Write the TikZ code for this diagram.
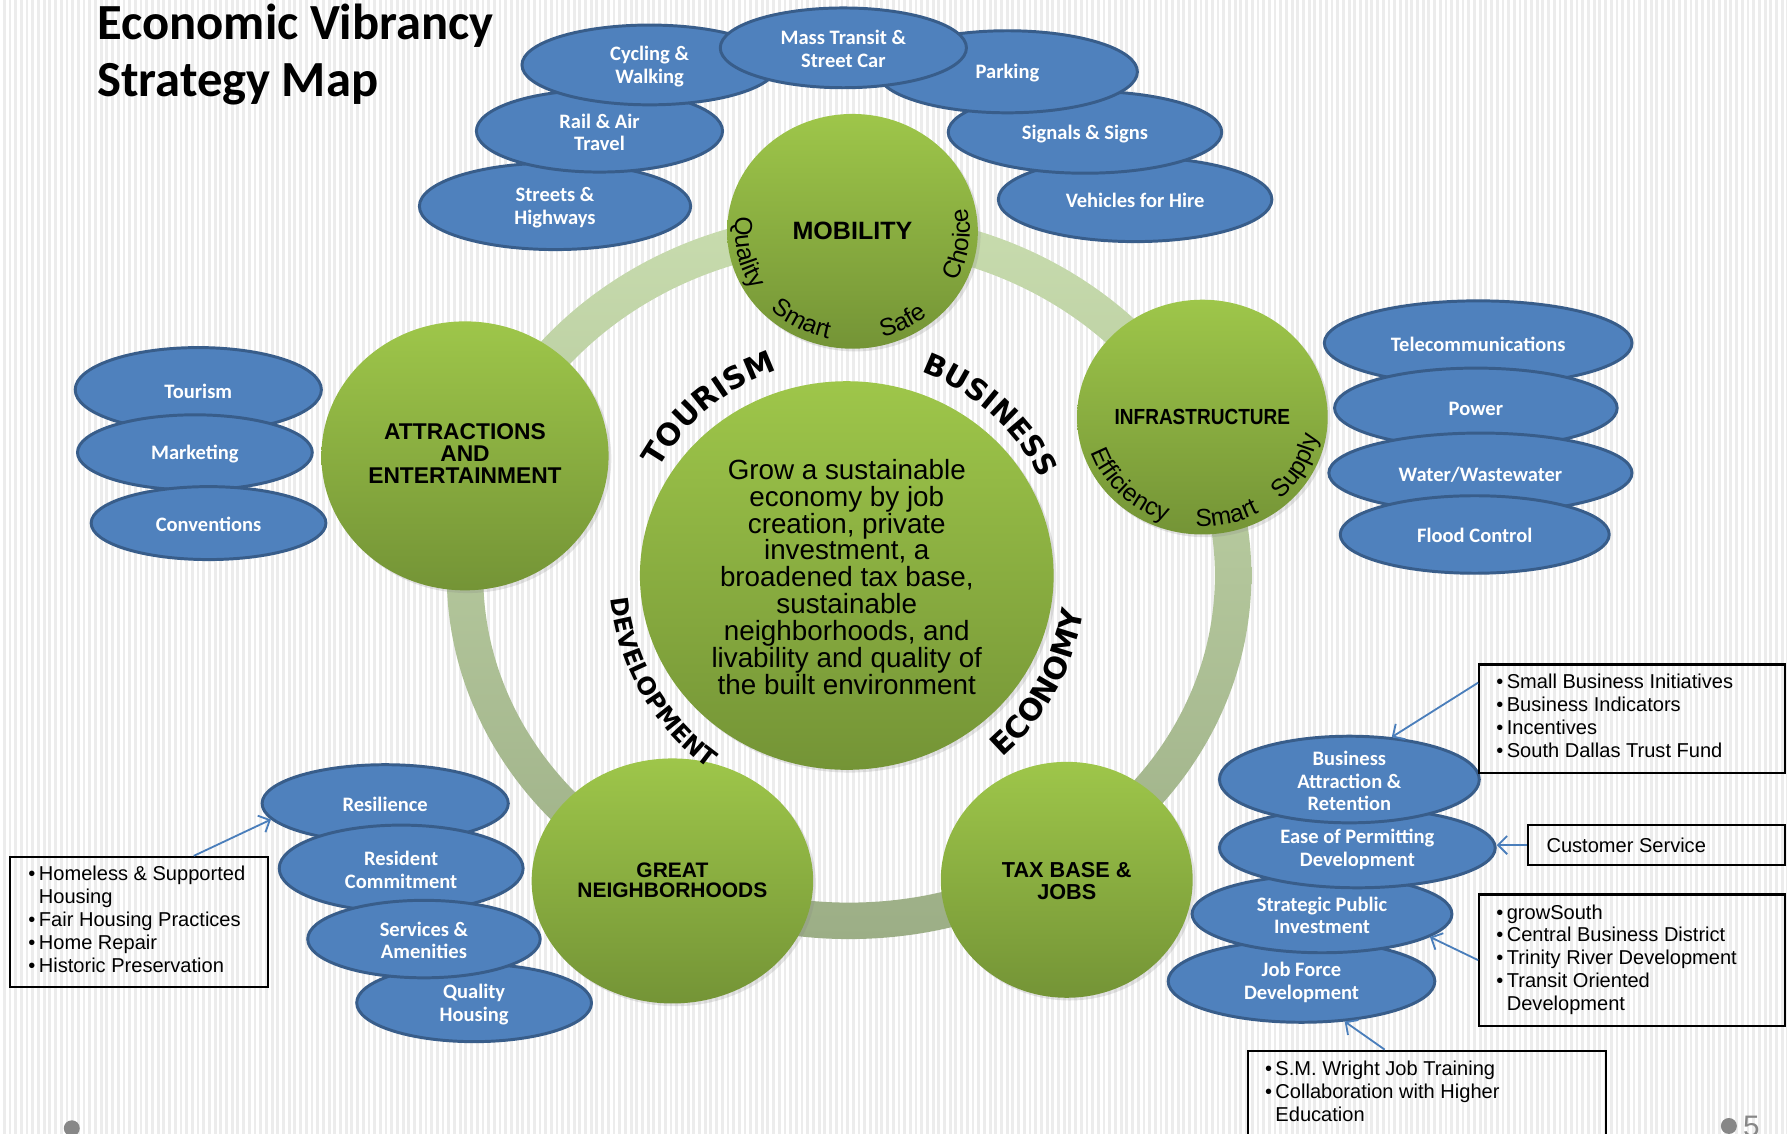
\documentclass[tikz,border=0pt]{standalone}
\usepackage{fontspec}
\usepackage{graphicx}
\setmainfont{Liberation Sans}
\newfontfamily\calib{Carlito}
\newfontfamily\heavy{DejaVu Sans}
\usetikzlibrary{shapes.geometric,decorations.text,arrows.meta,calc,shadows,fadings}
\definecolor{bfill}{RGB}{79,129,189}
\definecolor{bline}{RGB}{56,93,138}
\definecolor{gtop}{RGB}{158,198,74}
\definecolor{gbot}{RGB}{116,148,54}
\definecolor{rtop}{RGB}{200,220,174}
\definecolor{rbot}{RGB}{156,174,134}
\definecolor{arrowblue}{RGB}{74,126,187}
\definecolor{stripe}{RGB}{236,236,236}
\definecolor{dotgray}{RGB}{135,135,135}
\newcommand\zc[2][0pt]{\smash{\makebox[0pt]{\raisebox{\dimexpr-\fontdimen22\textfont2-0.6pt+#1\relax}{\parbox[c]{300pt}{\centering #2}}}}}
\newcommand\bl[1]{\begin{tabular}[c]{@{}l@{\hspace{1.5pt}}l@{}}#1\end{tabular}}
\newcommand\bx[2]{\makebox[#1][l]{#2}}
\newcommand\smallcurve{\fontsize{10.8}{10.8}\selectfont}
\newcommand\tourf{\heavy\bfseries\fontsize{13.3}{13.3}\selectfont}
\newcommand\busf{\heavy\bfseries\fontsize{12.8}{12.8}\selectfont}
\newcommand\devf{\heavy\bfseries\fontsize{10.6}{10.6}\selectfont}
\newcommand\ecof{\heavy\bfseries\fontsize{13.2}{13.2}\selectfont}
\begin{document}
\begin{tikzpicture}[x=0.5pt,y=0.5pt,
  bell/.style={ellipse, draw=bline, line width=1.3pt, fill=bfill, inner sep=0pt, text=white, font={\calib\bfseries\fontsize{9}{10}\selectfont}},
  gcirc/.style={ellipse, inner sep=0pt, top color=gtop, bottom color=gbot, drop shadow={opacity=0.2,shadow xshift=1.2pt,shadow yshift=-1.2pt}},
  infobox/.style={draw=black, line width=1pt, anchor=west, inner xsep=7.5pt, inner ysep=0pt, font={\fontsize{8.8}{10}\selectfont}},
  link/.style={arrowblue, line width=0.8pt, -{Straight Barb[length=4pt,width=8pt]}}]
\useasboundingbox (0,0) rectangle (1568,995);
\clip (0,0) rectangle (1568,995);
\fill[stripe] (0,0) rectangle (1568,995);
\foreach \i in {0,5,...,1565} {\fill[white] (\i,0) rectangle ++(2.5,995);}

% ring
\coordinate (rc) at (745,490);
\shade[top color=rtop, bottom color=rbot, even odd rule] (rc) ellipse[x radius=353, y radius=319] (rc) ellipse[x radius=321, y radius=287];

% title
\node[anchor=base west, inner sep=0pt, font={\calib\bfseries\fontsize{22.2}{25}\selectfont}] (t1) at (85,960) {Economic Vibrancy};
\node[anchor=base west, inner sep=0pt, font={\calib\bfseries\fontsize{22.2}{25}\selectfont}] (t2) at (85,910) {Strategy Map};

% green circles
\node[gcirc, minimum width=110pt, minimum height=103pt, font={\bfseries\fontsize{11}{11}\selectfont}] (mob) at (748,792) {\zc[1pt]{MOBILITY}};
\node[gcirc, minimum width=110pt, minimum height=103pt, font={\bfseries\fontsize{9.6}{9.6}\selectfont}] (infra) at (1055,629) {\zc[0.5pt]{\scalebox{0.87}[1]{INFRASTRUCTURE}}};
\node[gcirc, minimum width=126pt, minimum height=118pt, font={\bfseries\fontsize{10}{9.75}\selectfont}] (attr) at (408,595) {\zc[1.5pt]{ATTRACTIONS\\AND\\ENTERTAINMENT}};
\node[gcirc, minimum width=181.5pt, minimum height=170.5pt, font={\fontsize{12.2}{11.8}\selectfont}] (core) at (743,490) {\zc{Grow a sustainable\\economy by job\\creation, private\\investment, a\\broadened tax base,\\sustainable\\neighborhoods, and\\livability and quality of\\the built environment}};
\node[gcirc, minimum width=123.5pt, minimum height=107.5pt, font={\bfseries\fontsize{9.2}{9}\selectfont}] (nbh) at (590,222) {\zc[1pt]{GREAT\\NEIGHBORHOODS}};
\node[gcirc, minimum width=110.5pt, minimum height=103.5pt, font={\bfseries\fontsize{9.5}{9.5}\selectfont}] (tax) at (936,223) {\zc{TAX BASE \&\\JOBS}};

% blue ellipses - mobility
\node[bell, minimum width=119pt, minimum height=38pt] (streets) at (487,814) {\zc{Streets \&\\Highways}};
\node[bell, minimum width=108pt, minimum height=36pt] (rail) at (526,880) {\zc{Rail \& Air\\Travel}};
\node[bell, minimum width=112pt, minimum height=35pt] (cyc) at (570,938) {\zc{Cycling \&\\Walking}};
\node[bell, minimum width=120pt, minimum height=37pt] (veh) at (996,820) {\zc{Vehicles for Hire}};
\node[bell, minimum width=120pt, minimum height=36pt] (sig) at (952,879) {\zc{Signals \& Signs}};
\node[bell, minimum width=114pt, minimum height=36pt] (park) at (884,932) {\zc{Parking}};
\node[bell, minimum width=108pt, minimum height=35pt] (mass) at (740,953) {\zc{Mass Transit \&\\Street Car}};
% attractions
\node[bell, minimum width=108pt, minimum height=37pt] (tour) at (174,653) {\zc{Tourism}};
\node[bell, minimum width=103pt, minimum height=33pt] (mkt) at (171,598) {\zc{Marketing}};
\node[bell, minimum width=103pt, minimum height=32pt] (conv) at (183,536) {\zc{Conventions}};
% infrastructure
\node[bell, minimum width=135pt, minimum height=37pt] (tel) at (1297,694) {\zc{Telecommunications}};
\node[bell, minimum width=124pt, minimum height=35pt] (pow) at (1295,637) {\zc{Power}};
\node[bell, minimum width=133pt, minimum height=35pt] (wat) at (1299,580) {\zc{Water/Wastewater}};
\node[bell, minimum width=118pt, minimum height=34pt] (fld) at (1294,526) {\zc{Flood Control}};
% neighborhoods
\node[bell, minimum width=108pt, minimum height=34pt] (resil) at (338,290) {\zc{Resilience}};
\node[bell, minimum width=107pt, minimum height=38pt] (resid) at (352,233) {\zc{Resident\\Commitment}};
\node[bell, minimum width=103pt, minimum height=34pt] (qual) at (416,115) {\zc{Quality\\Housing}};
\node[bell, minimum width=102pt, minimum height=34pt] (serv) at (372,171) {\zc{Services \&\\Amenities}};
% tax base
\node[bell, minimum width=117pt, minimum height=36pt] (job) at (1142,134) {\zc{Job Force\\Development}};
\node[bell, minimum width=114pt, minimum height=34pt] (str) at (1160,193) {\zc{Strategic Public\\Investment}};
\node[bell, minimum width=121pt, minimum height=35pt] (ease) at (1191,251) {\zc{Ease of Permitting\\Development}};
\node[bell, minimum width=114pt, minimum height=38pt] (bus) at (1184,311) {\zc{Business\\Attraction \&\\Retention}};

% curved words in mobility
\path[decorate, decoration={text along path, text align=center, text={|\smallcurve|Quality}}] ($(mob.center)+(152:103 and 96)$) arc[start angle=152, end angle=232, x radius=103, y radius=96];
\path[decorate, decoration={text along path, text align=center, text={|\smallcurve|Smart}}] ($(mob.center)+(211.7:103 and 96)$) arc[start angle=211.7, end angle=271.7, x radius=103, y radius=96];
\path[decorate, decoration={text along path, text align=center, text={|\smallcurve|Safe}}] ($(mob.center)+(267.7:103 and 96)$) arc[start angle=267.7, end angle=327.7, x radius=103, y radius=96];
\path[decorate, decoration={text along path, text align=center, text={|\smallcurve|Choice}}] ($(mob.center)+(322.6:103 and 96)$) arc[start angle=322.6, end angle=382.6, x radius=103, y radius=96];
% curved words in infrastructure
\path[decorate, decoration={text along path, text align=center, text={|\smallcurve|Efficiency}}] ($(infra.center)+(179.6:103 and 96)$) arc[start angle=179.6, end angle=269.6, x radius=103, y radius=96];
\path[decorate, decoration={text along path, text align=center, text={|\smallcurve|Smart}}] ($(infra.center)+(253:103 and 96)$) arc[start angle=253, end angle=313, x radius=103, y radius=96];
\path[decorate, decoration={text along path, text align=center, text={|\smallcurve|Supply}}] ($(infra.center)+(301:103 and 96)$) arc[start angle=301, end angle=361, x radius=103, y radius=96];

% curved words around core
\path[decorate, decoration={text along path, text align=center, text={|\tourf|TOURISM}}] ($(core.center)+(169.6:190)$) arc[start angle=169.6, end angle=89.6, radius=190];
\path[decorate, decoration={text along path, text align=center, text={|\busf|BUSINESS}}] ($(core.center)+(88.2:190)$) arc[start angle=88.2, end angle=8.2, radius=190];
\path[decorate, decoration={text along path, text align=center, text={|\devf|DEVELOPMENT}}] ($(core.center)+(170:208)$) arc[start angle=170, end angle=250, radius=208];
\path[decorate, decoration={text along path, text align=center, text={|\ecof|ECONOMY}}] ($(core.center)+(-68.9:210)$) arc[start angle=-68.9, end angle=11.1, radius=210];

% boxes
\node[infobox, minimum height=47.5pt] (boxA) at (1297,364.5) {\bx{119pt}{\bl{\textbullet & Small Business Initiatives\\\textbullet & Business Indicators\\\textbullet & Incentives\\\textbullet & South Dallas Trust Fund}}};
\node[infobox, inner xsep=8pt, minimum height=17.5pt] (boxB) at (1340,253.5) {\bx{96.5pt}{Customer Service}};
\node[infobox, minimum height=57.5pt] (boxC) at (1297,152.5) {\bx{119pt}{\bl{\textbullet & growSouth\\\textbullet & Central Business District\\\textbullet & Trinity River Development\\\textbullet & Transit Oriented\\ & Development}}};
\node[infobox, minimum height=38pt] (boxD) at (1094,35) {\bx{142pt}{\bl{\textbullet & S.M. Wright Job Training\\\textbullet & Collaboration with Higher\\ & Education}}};
\node[infobox, inner xsep=8pt, minimum height=57pt] (boxE) at (8,186) {\bx{97pt}{\bl{\textbullet & Homeless \& Supported\\ & Housing\\\textbullet & Fair Housing Practices\\\textbullet & Home Repair\\\textbullet & Historic Preservation}}};

% arrows
\draw[link] ($(boxA.north west)+(0,-17)$) -- (bus.45);
\draw[link] (boxB.west) -- (boxB.west -| ease.east);
\draw[link] (boxC.west) -- (str.-12);
\draw[link] ($(boxD.north west)+(121,0)$) -- (job.-43);
\draw[link] ($(boxE.north west)+(162,0)$) -- (resil.188);

% slide marks
\fill[dotgray] (63,5) circle[radius=7];
\fill[dotgray] (1517,7) circle[radius=7];
\node[anchor=base west, inner sep=0pt, text=dotgray, font={\fontsize{13}{13}\selectfont}] (pg) at (1529,-2) {5};
\end{tikzpicture}
\end{document}
